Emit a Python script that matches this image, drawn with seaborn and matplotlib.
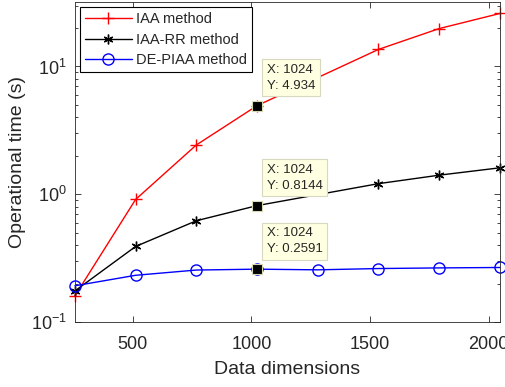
import matplotlib
matplotlib.use("Agg")
import matplotlib.pyplot as plt
import seaborn as sns
import pandas as pd
import numpy as np
from matplotlib.ticker import LogLocator, FixedLocator, NullFormatter

x_iaa = [256, 512, 768, 1024, 1536, 1792, 2048]
y_iaa = [0.16, 0.91, 2.43, 4.934, 13.6, 19.8, 26.0]
x_rr = [256, 512, 768, 1024, 1536, 1792, 2048]
y_rr = [0.175, 0.39, 0.62, 0.8144, 1.21, 1.41, 1.61]
x_de = [256, 512, 768, 1024, 1280, 1536, 1792, 2048]
y_de = [0.192, 0.232, 0.255, 0.2591, 0.256, 0.262, 0.265, 0.267]
tip_x = 1024
tip_vals = [4.934, 0.8144, 0.2591]
xticks = [500, 1000, 1500, 2000]

sns.set_style("ticks")
plt.rcParams['font.family'] = ['Liberation Sans', 'DejaVu Sans']
plt.rcParams['mathtext.fontset'] = 'custom'
plt.rcParams['mathtext.rm'] = 'Liberation Sans'
plt.rcParams['mathtext.it'] = 'Liberation Sans'

fig = plt.figure(figsize=(5.06, 3.87), dpi=100)
ax = fig.add_axes([0.148, 0.168, 0.840, 0.827])

df1 = pd.DataFrame({"x": x_iaa, "y": y_iaa})
df2 = pd.DataFrame({"x": x_rr, "y": y_rr})
df3 = pd.DataFrame({"x": x_de, "y": y_de})

sns.lineplot(data=df1, x="x", y="y", ax=ax, color="red", marker="+", markersize=8,
             markeredgecolor="red", markeredgewidth=1.0, linewidth=1.0,
             label="IAA method", clip_on=False)
sns.lineplot(data=df2, x="x", y="y", ax=ax, color="black", marker=(6, 2, 0), markersize=7,
             markeredgecolor="black", markeredgewidth=1.0, linewidth=1.0,
             label="IAA-RR method", clip_on=False)
sns.lineplot(data=df3, x="x", y="y", ax=ax, color="blue", marker="o", markersize=8,
             markerfacecolor="none", markeredgecolor="blue", markeredgewidth=1.0,
             linewidth=1.0, label="DE-PIAA method", clip_on=False)

ax.set_yscale("log")
ax.set_xlim(256, 2048)
ax.set_ylim(0.1, 32)

# data tips
for v in tip_vals:
    ax.plot([tip_x], [v], marker="s", markersize=7, markerfacecolor="black",
            markeredgecolor="#d8d8b0", markeredgewidth=0.8, linestyle="none", zorder=5)
    ax.annotate("X: 1024\nY: %s" % v, xy=(tip_x, v), xytext=(7, 10), textcoords="offset points",
                fontsize=9.5, ha="left", va="bottom", linespacing=1.45,
                bbox=dict(boxstyle="square,pad=0.35", facecolor="#ffffe1", edgecolor="#d8d8c0", linewidth=0.8),
                zorder=6)

ax.xaxis.set_major_locator(FixedLocator(xticks))
ax.yaxis.set_major_locator(LogLocator(base=10, numticks=10))
ax.yaxis.set_minor_locator(LogLocator(base=10, subs=np.arange(2, 10), numticks=10))
ax.yaxis.set_minor_formatter(NullFormatter())
ax.tick_params(direction="in", which="both", top=True, right=True, labelsize=13, width=0.6)
ax.tick_params(axis="x", pad=10)
ax.tick_params(axis="y", pad=6)
ax.tick_params(which="major", length=4)
ax.tick_params(which="minor", length=2.5)
for s in ax.spines.values():
    s.set_linewidth(0.6)
    s.set_color("#262626")

ax.set_xlabel("Data dimensions", fontsize=14, labelpad=6)
ax.set_ylabel("Operational time (s)", fontsize=14, labelpad=3)

leg = ax.legend(loc="upper left", fontsize=10.5, frameon=True, fancybox=False,
                edgecolor="black", framealpha=1, borderpad=0.35, handlelength=3.2,
                labelspacing=0.45, handletextpad=0.3, borderaxespad=0.35)
leg.get_frame().set_linewidth(0.8)

fig.savefig("out.png", dpi=100)
